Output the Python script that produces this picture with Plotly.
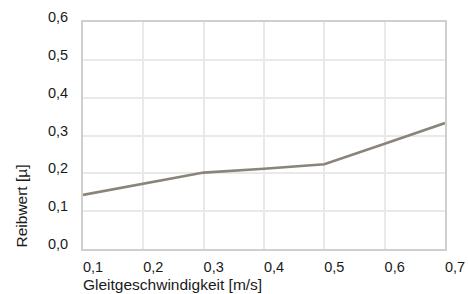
import plotly.graph_objects as go

speed = [0.1, 0.2, 0.3, 0.4, 0.5, 0.6, 0.7]
friction = [0.143, 0.172, 0.202, 0.212, 0.224, 0.278, 0.333]
x_ticks = [0.1, 0.2, 0.3, 0.4, 0.5, 0.6, 0.7]
x_labels = ["0,1", "0,2", "0,3", "0,4", "0,5", "0,6", "0,7"]
y_ticks = [0.0, 0.1, 0.2, 0.3, 0.4, 0.5, 0.6]
y_labels = ["0,0", "0,1", "0,2", "0,3", "0,4", "0,5", "0,6"]

FONT = "Liberation Sans, Arial, sans-serif"
TXT = "#1a1a1a"

fig = go.Figure()
fig.add_trace(go.Scatter(x=speed, y=friction, mode="lines",
                         line=dict(color="#8a8579", width=2.6), hoverinfo="skip"))

fig.update_layout(
    width=468, height=294,
    margin=dict(l=83, r=23, t=22, b=45),
    paper_bgcolor="white", plot_bgcolor="white",
    showlegend=False,
    font=dict(family=FONT, size=14, color=TXT),
)
fig.update_xaxes(
    range=[0.1, 0.7], tickvals=x_ticks, ticktext=x_labels,
    showgrid=True, gridcolor="#e9e9e9", gridwidth=2,
    showline=True, linecolor="#cfcfcf", linewidth=2, mirror=True,
    zeroline=False, ticks="", ticklabelshift=10, ticklabelstandoff=4,
    automargin=False,
    tickfont=dict(family=FONT, size=14.5, color=TXT),
)
fig.update_yaxes(
    range=[0, 0.6], tickvals=y_ticks, ticktext=y_labels,
    showgrid=True, gridcolor="#e9e9e9", gridwidth=2,
    showline=True, linecolor="#cfcfcf", linewidth=2, mirror=True,
    zeroline=False, ticks="", ticklabelshift=-5, ticklabelstandoff=10,
    automargin=False,
    tickfont=dict(family=FONT, size=14.5, color=TXT),
)
fig.add_annotation(text="Gleitgeschwindigkeit [m/s]", xref="paper", yref="paper",
                   x=0, y=0, xanchor="left", yanchor="middle", yshift=-35, xshift=-2,
                   showarrow=False, font=dict(family=FONT, size=15.5, color=TXT))
fig.add_annotation(text="Reibwert [µ]", xref="paper", yref="paper",
                   x=0, y=0, xanchor="center", yanchor="bottom", textangle=-90,
                   xshift=-62, yshift=-1, showarrow=False,
                   font=dict(family=FONT, size=15.5, color=TXT))

fig.write_html("out.html", post_script="document.body.style.margin='0';",
               config={"displayModeBar": False})
